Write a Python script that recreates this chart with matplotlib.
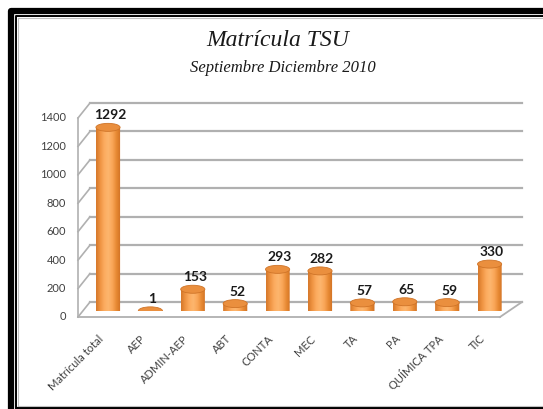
import matplotlib
matplotlib.use("Agg")
import matplotlib.pyplot as plt
import matplotlib.transforms as mtransforms
from matplotlib.colors import LinearSegmentedColormap
from matplotlib.lines import Line2D
from matplotlib.patches import Ellipse, Polygon
import numpy as np

# Datos
categorias = ['Matrícula total', 'AEP', 'ADMIN-AEP', 'ABT', 'CONTA', 'MEC', 'TA', 'PA',
              'QUÍMICA TPA', 'TIC']
matricula = [1292, 1, 153, 52, 293, 282, 57, 65, 59, 330]
ticks_y = [0, 200, 400, 600, 800, 1000, 1200, 1400]

titulo = 'Matrícula TSU'
subtitulo = 'Septiembre Diciembre 2010'

W, H = 543, 409
fig = plt.figure(figsize=(W / 100, H / 100), dpi=100)

# ejes en el plano de las barras (pixeles de la imagen)
ax = fig.add_axes([84 / W, (H - 311) / H, 422 / W, 199 / H])
ax.set_xlim(-0.566, 9.387)
ax.set_ylim(0, 1400)
ax.axis('off')

blend = mtransforms.blended_transform_factory(ax.transAxes, ax.transData)


def shift(dx, dy):
    return mtransforms.ScaledTranslation(dx / 100, dy / 100, fig.dpi_scale_trans)


def px(xf, v, dx, dy):
    x, y = blend.transform((xf, v))
    return x + dx, y + dy


def linea(p1, p2, color='#b4b4b4', lw=1.3):
    ax.add_artist(Line2D([p1[0], p2[0]], [p1[1], p2[1]], color=color, lw=lw, zorder=1,
                         clip_on=False, transform=mtransforms.IdentityTransform()))


# pared del fondo y lineas de division
gris = '#b0b0b0'
for v in ticks_y:
    linea(px(0, v, 6, 9), px(1, v, 16, 9), gris, 1.6)
    linea(px(0, v, -6, -6), px(0, v, 6, 9), gris, 1.2)
linea(px(0, 0, -6, -6), px(0, 1400, -6, -6), gris, 1.2)
# piso
linea(px(0, 0, -6, -6), px(1, 0, -6, -6), gris, 1.3)
linea(px(1, 0, -6, -6), px(1, 0, 16, 9), gris, 1.3)

# etiquetas del eje y
for v in ticks_y:
    ax.text(0, v, str(v), transform=blend + shift(-18, -6), ha='right', va='center',
            fontsize=8, color='#404040', family='Lato')

# barras cilindricas
cmap = LinearSegmentedColormap.from_list(
    'naranja', ['#d6782a', '#ef9442', '#fcac60', '#fdb66e', '#f9a556', '#e68832', '#cf7024'])
grad = np.linspace(0, 1, 64).reshape(1, -1)
ancho = 0.57
eh = 8 * 1400 / 199  # alto de la elipse en unidades de datos
for i, v in enumerate(matricula):
    x0, x1 = i - ancho / 2, i + ancho / 2
    t = np.linspace(np.pi, 2 * np.pi, 40)
    arco = np.column_stack([i + ancho / 2 * np.cos(t), eh / 2 * np.sin(t)])
    verts = np.vstack([[[x0, v]], arco, [[x1, v]]])
    clip = Polygon(verts, closed=True, transform=ax.transData, facecolor='none',
                   edgecolor='none')
    ax.add_patch(clip)
    im = ax.imshow(grad, cmap=cmap, extent=[x0, x1, -eh, v + 1], aspect='auto',
                   zorder=2, interpolation='bilinear')
    im.set_clip_path(clip)
    ax.add_patch(Ellipse((i, v), ancho, eh, facecolor='#ea8f3e', edgecolor='#cf7428',
                         lw=0.6, zorder=3))
    ax.annotate(str(v), (i, v), xytext=(2, 6), textcoords='offset pixels',
                ha='center', va='bottom', fontsize=10, fontweight='bold',
                color='#1a1a1a', family='Lato')

ax.set_xlim(-0.566, 9.387)
ax.set_ylim(0, 1400)

# etiquetas de categorias
for i, c in enumerate(categorias):
    ax.text(i, 0, c, transform=ax.transData + shift(-6, -26), rotation=45,
            ha='right', va='center', rotation_mode='anchor', fontsize=8,
            color='#404040', family='Lato')

# titulos
fig.text(278 / W, 1 - 40 / H, titulo, ha='center', va='center', fontsize=17,
         style='italic', family='Liberation Serif', color='#1a1a1a')
fig.text(283 / W, 1 - 68 / H, subtitulo, ha='center', va='center', fontsize=12,
         style='italic', family='Liberation Serif', color='#1a1a1a')

# marco
def marco(x, y, color, lw):
    fig.add_artist(Line2D(x, y, color=color, lw=lw, solid_capstyle='butt',
                          transform=mtransforms.IdentityTransform()))

marco([10.5, 10.5, W], [0, H - 11, H - 11], 'black', 4.5)
marco([16, 16, W], [0, H - 16, H - 16], 'black', 1.4)
marco([18, 18, W], [2.5, H - 18, H - 18], '#c0c0c0', 0.8)
marco([16, W], [1.5, 1.5], 'black', 1.6)
marco([18, W], [3, 3], '#c0c0c0', 0.8)

fig.savefig('out.png', dpi=100)
